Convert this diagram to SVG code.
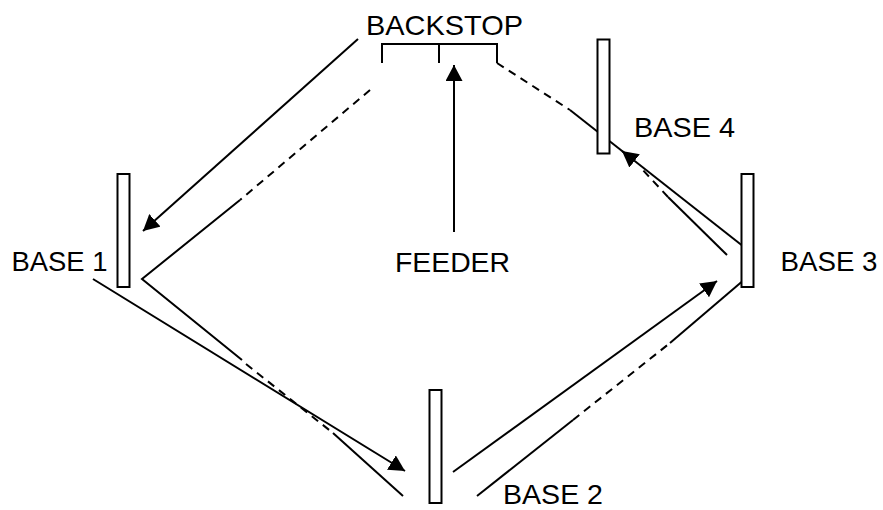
<svg xmlns="http://www.w3.org/2000/svg" width="883" height="510" viewBox="0 0 883 510">
<style>
.lbl{font-family:"Liberation Sans",Arial,sans-serif;font-size:27.5px;fill:#000}
.base{fill:#fff;stroke:#000;stroke-width:2}
.ln{fill:none;stroke:#000;stroke-width:2}
.dash{fill:none;stroke:#000;stroke-width:2;stroke-dasharray:8 6}
.arr{fill:none;stroke:#000;stroke-width:2;marker-end:url(#ah)}
</style>
<defs>
<marker id="ah" markerUnits="userSpaceOnUse" markerWidth="17" markerHeight="17" refX="16" refY="8.5" orient="auto">
<path d="M0,0 L16,8.5 L0,17 z" fill="#000"/>
</marker>
</defs>
<rect width="883" height="510" fill="#fff"/>
<g id="connectors">
<line class="arr" x1="358" y1="39" x2="143" y2="231"/>
<line class="arr" x1="93" y1="279" x2="405" y2="471"/>
<line class="arr" x1="453" y1="472" x2="717" y2="281"/>
<line class="arr" x1="741.5" y1="245" x2="622" y2="151"/>
<line class="arr" x1="454" y1="232" x2="454" y2="65"/>
<line class="dash" x1="370" y1="90" x2="240" y2="200"/>
<polyline class="ln" points="240,200 142,279 242,360"/>
<line class="dash" x1="246" y1="364" x2="333" y2="433"/>
<line class="ln" x1="333" y1="433" x2="403" y2="496"/>
<line class="ln" x1="477" y1="496" x2="573" y2="420"/>
<line class="dash" x1="573" y1="420" x2="670" y2="343"/>
<line class="ln" x1="670" y1="343" x2="741.5" y2="282"/>
<line class="ln" x1="727" y1="255" x2="668" y2="197"/>
<line class="dash" x1="668" y1="197" x2="640" y2="167"/>
<line class="dash" x1="497" y1="63" x2="570" y2="110"/>
<line class="ln" x1="570" y1="110" x2="624" y2="152.5"/>
</g>
<g id="backstop">
<path class="ln" d="M382,63 V44 H497 V63 M439,44 V63"/>
<text class="lbl" x="366" y="35" textLength="157" lengthAdjust="spacingAndGlyphs">BACKSTOP</text>
</g>
<g id="base1">
<rect class="base" x="117.5" y="174" width="12" height="113"/>
<text class="lbl" x="11.5" y="270.5" textLength="96" lengthAdjust="spacingAndGlyphs">BASE 1</text>
</g>
<g id="base2">
<rect class="base" x="429.5" y="390" width="12" height="113"/>
<text class="lbl" x="503" y="504" textLength="100" lengthAdjust="spacingAndGlyphs">BASE 2</text>
</g>
<g id="base3">
<rect class="base" x="741.5" y="174" width="12" height="113"/>
<text class="lbl" x="780.5" y="270.5" textLength="97" lengthAdjust="spacingAndGlyphs">BASE 3</text>
</g>
<g id="base4">
<rect class="base" x="597.5" y="39.5" width="12" height="114"/>
<text class="lbl" x="634" y="136.5" textLength="101" lengthAdjust="spacingAndGlyphs">BASE 4</text>
</g>
<g id="feeder">
<text class="lbl" x="395" y="271.5" textLength="115" lengthAdjust="spacingAndGlyphs">FEEDER</text>
</g>
</svg>
